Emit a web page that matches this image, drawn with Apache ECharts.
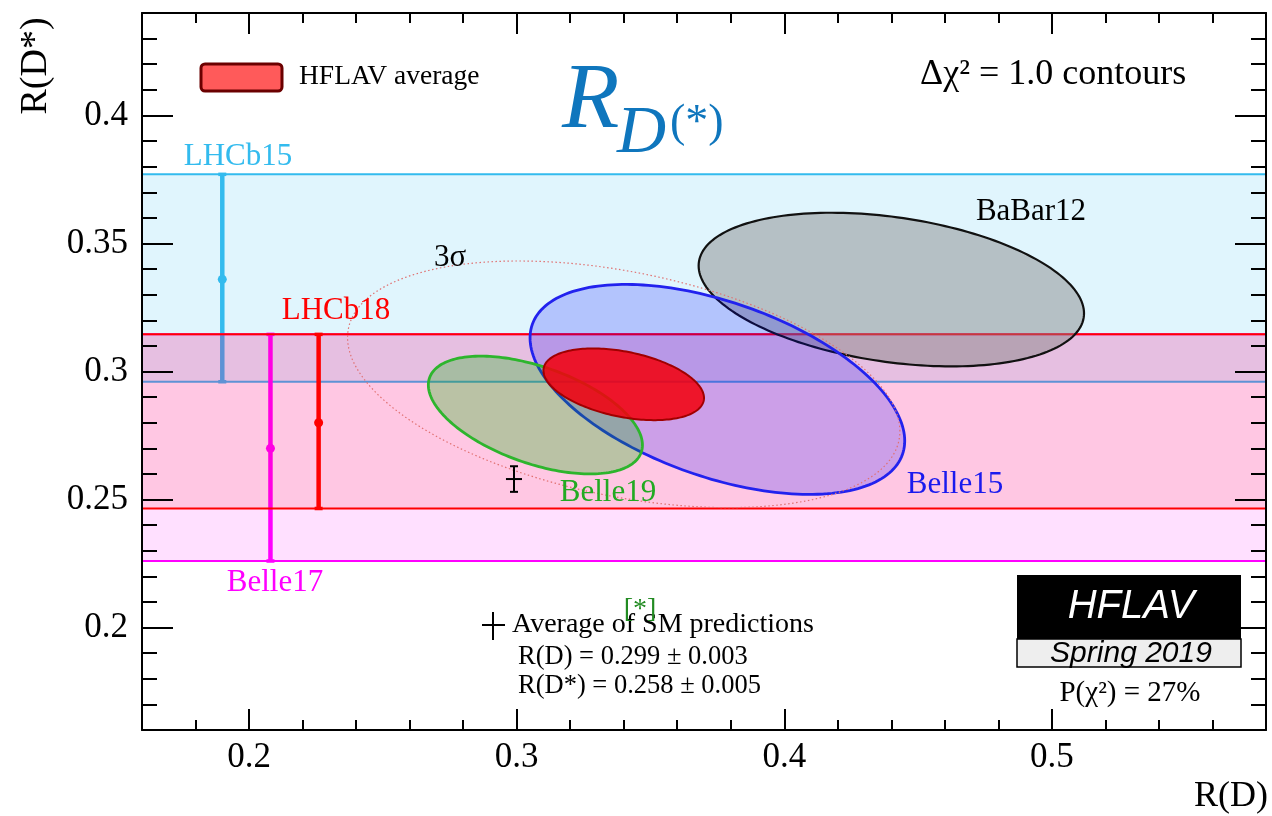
<!DOCTYPE html>
<html><head><meta charset="utf-8">
<script src="https://cdn.jsdelivr.net/npm/echarts@6/dist/echarts.min.js"></script>
<style>html,body{margin:0;padding:0;background:#fff;}#c{width:1272px;height:816px;}</style>
</head><body><div id="c"></div>
<script>
// ---------------- data ----------------
const xTickLabels = [0.2, 0.3, 0.4, 0.5];
const yTickLabels = [0.2, 0.25, 0.3, 0.35, 0.4];

// 1D R(D*) measurements (bands + error bars)
const measNames = ['LHCb15', 'Belle17', 'LHCb18'];
const measX = [0.190, 0.208, 0.226];
const measVal = [0.336, 0.270, 0.280];
const measLo = [0.296, 0.226, 0.2465];
const measHi = [0.377, 0.3145, 0.3145];

// 2D measurements (Δχ² = 1 contours)
const ellNames = ['BaBar12', 'Belle15', 'Belle19'];
const ellRD = [0.440, 0.375, 0.307];
const ellRDErr = [0.072, 0.070, 0.040];
const ellRDs = [0.332, 0.293, 0.283];
const ellRDsErr = [0.030, 0.041, 0.023];
const ellCorr = [-0.31, -0.49, -0.51];

// HFLAV average
const avgRD = [0.340], avgRDErr = [0.030], avgRDs = [0.295], avgRDsErr = [0.014], avgCorr = [-0.38];
const sigma3Scale = 3.44; // sqrt(Δχ² = 11.8)

// SM prediction
const smRD = [0.299], smRDErr = [0.003], smRDs = [0.258], smRDsErr = [0.005];
const pChi2 = '27%';

// ---------------- styles ----------------
const SERIF = '"Liberation Serif", "Times New Roman", serif';
const SANS = '"Liberation Sans", Arial, sans-serif';
const measStyle = {
  LHCb15: { line: '#33bbee', fill: 'rgba(0,176,240,0.12)' },
  Belle17: { line: '#ff00ff', fill: 'rgba(255,0,255,0.12)' },
  LHCb18: { line: '#ff0000', fill: 'rgba(255,0,0,0.11)' }
};
const ellStyle = {
  BaBar12: { stroke: '#111111', fill: 'rgba(128,128,128,0.45)', lw: 2.2 },
  Belle15: { stroke: '#2222ee', fill: 'rgba(0,0,255,0.2)', lw: 2.8 },
  Belle19: { stroke: '#2db52d', fill: 'rgba(0,180,0,0.27)', lw: 2.8 }
};

function ellipsePoints(api, cx, sx, cy, sy, rho, k) {
  const pts = [];
  const n = 200, s = Math.sqrt(1 - rho * rho);
  for (let i = 0; i < n; i++) {
    const t = 2 * Math.PI * i / n;
    pts.push(api.coord([cx + k * sx * Math.cos(t), cy + k * sy * (rho * Math.cos(t) + s * Math.sin(t))]));
  }
  return pts;
}

const series = [];
// bands + error bars
measNames.forEach((name, i) => {
  const st = measStyle[name];
  series.push({
    type: 'custom', name, xAxisIndex: 0, yAxisIndex: 0, z: 2 + i * 0.1,
    data: [[measX[i], measVal[i], measLo[i], measHi[i]]],
    renderItem: (params, api) => {
      const cs = params.coordSys;
      const x = api.value(0), v = api.value(1), lo = api.value(2), hi = api.value(3);
      const pLo = api.coord([x, lo]), pHi = api.coord([x, hi]), pV = api.coord([x, v]);
      return {
        type: 'group', children: [
          { type: 'rect', shape: { x: cs.x, y: pHi[1], width: cs.width, height: pLo[1] - pHi[1] }, style: { fill: st.fill } },
          { type: 'line', shape: { x1: cs.x, y1: pHi[1], x2: cs.x + cs.width, y2: pHi[1] }, style: { stroke: st.line, lineWidth: 2 } },
          { type: 'line', shape: { x1: cs.x, y1: pLo[1], x2: cs.x + cs.width, y2: pLo[1] }, style: { stroke: st.line, lineWidth: 2 } },
          { type: 'line', shape: { x1: pV[0], y1: pLo[1], x2: pV[0], y2: pHi[1] }, style: { stroke: st.line, lineWidth: 4.5 } },
          { type: 'line', shape: { x1: pV[0] - 4, y1: pLo[1], x2: pV[0] + 4, y2: pLo[1] }, style: { stroke: st.line, lineWidth: 3.5 } },
          { type: 'line', shape: { x1: pV[0] - 4, y1: pHi[1], x2: pV[0] + 4, y2: pHi[1] }, style: { stroke: st.line, lineWidth: 3.5 } },
          { type: 'circle', shape: { cx: pV[0], cy: pV[1], r: 4.5 }, style: { fill: st.line } }
        ]
      };
    }
  });
});
// 2D contours
ellNames.forEach((name, i) => {
  const st = ellStyle[name];
  series.push({
    type: 'custom', name, xAxisIndex: 0, yAxisIndex: 0, z: 3 + i * 0.1,
    data: [[ellRD[i], ellRDErr[i], ellRDs[i], ellRDsErr[i], ellCorr[i]]],
    renderItem: (params, api) => ({
      type: 'polygon',
      shape: { points: ellipsePoints(api, api.value(0), api.value(1), api.value(2), api.value(3), api.value(4), 1) },
      style: { fill: st.fill, stroke: st.stroke, lineWidth: st.lw }
    })
  });
});
// 3 sigma contour of the average
series.push({
  type: 'custom', name: '3σ', xAxisIndex: 0, yAxisIndex: 0, z: 4,
  data: [[avgRD[0], avgRDErr[0], avgRDs[0], avgRDsErr[0], avgCorr[0]]],
  renderItem: (params, api) => ({
    type: 'polygon',
    shape: { points: ellipsePoints(api, api.value(0), api.value(1), api.value(2), api.value(3), api.value(4), sigma3Scale) },
    style: { fill: null, stroke: '#e07070', lineWidth: 1.2, lineDash: [1.5, 2.5] }
  })
});
// HFLAV average
series.push({
  type: 'custom', name: 'HFLAV average', xAxisIndex: 0, yAxisIndex: 0, z: 5,
  data: [[avgRD[0], avgRDErr[0], avgRDs[0], avgRDsErr[0], avgCorr[0]]],
  renderItem: (params, api) => ({
    type: 'polygon',
    shape: { points: ellipsePoints(api, api.value(0), api.value(1), api.value(2), api.value(3), api.value(4), 1) },
    style: { fill: 'rgba(242,0,14,0.87)', stroke: '#a00000', lineWidth: 2 }
  })
});
// SM prediction cross
series.push({
  type: 'custom', name: 'SM', xAxisIndex: 0, yAxisIndex: 0, z: 6,
  data: [[smRD[0], smRDErr[0], smRDs[0], smRDsErr[0]]],
  renderItem: (params, api) => {
    const x = api.value(0), ex = api.value(1), y = api.value(2), ey = api.value(3);
    const l = api.coord([x - ex, y]), r = api.coord([x + ex, y]), t = api.coord([x, y + ey]), b = api.coord([x, y - ey]);
    const s = { stroke: '#000', lineWidth: 2 };
    return {
      type: 'group', children: [
        { type: 'line', shape: { x1: l[0], y1: l[1], x2: r[0], y2: r[1] }, style: s },
        { type: 'line', shape: { x1: t[0], y1: t[1], x2: b[0], y2: b[1] }, style: s },
        { type: 'line', shape: { x1: t[0] - 4, y1: t[1], x2: t[0] + 4, y2: t[1] }, style: s },
        { type: 'line', shape: { x1: b[0] - 4, y1: b[1], x2: b[0] + 4, y2: b[1] }, style: s }
      ]
    };
  }
});

// ---------------- axes ----------------
const X0 = 0.16, X1 = 0.58, Y0 = 0.16, Y1 = 0.44;
const labFont = { fontFamily: SERIF, fontSize: 35, color: '#000' };
const tickLS = { color: '#000', width: 2 };
function xMajor(pos, labels) {
  return {
    type: 'value', gridIndex: 0, position: pos, min: X0, max: X1, z: 10,
    axisLine: { show: true, onZero: false, lineStyle: { color: '#000', width: 2 } },
    axisTick: { show: true, inside: true, length: 21, lineStyle: tickLS, customValues: xTickLabels },
    axisLabel: labels ? Object.assign({ show: true, margin: 10, customValues: xTickLabels, formatter: v => v.toFixed(1) }, labFont) : { show: false },
    splitLine: { show: false }
  };
}
function xMinor(pos) {
  return {
    type: 'value', gridIndex: 1, position: pos, min: X0, max: X1, interval: 0.02, z: 10,
    axisLine: { show: false }, axisTick: { show: true, inside: true, length: 10, lineStyle: tickLS },
    axisLabel: { show: false }, splitLine: { show: false }
  };
}
function yMajor(pos, labels) {
  return {
    type: 'value', gridIndex: 0, position: pos, min: Y0, max: Y1, z: 10,
    axisLine: { show: true, onZero: false, lineStyle: { color: '#000', width: 2 } },
    axisTick: { show: true, inside: true, length: 31, lineStyle: tickLS, customValues: yTickLabels },
    axisLabel: labels ? Object.assign({ show: true, margin: 14, customValues: yTickLabels, formatter: v => String(+v.toFixed(2)) }, labFont) : { show: false },
    splitLine: { show: false }
  };
}
function yMinor(pos) {
  return {
    type: 'value', gridIndex: 1, position: pos, min: Y0, max: Y1, interval: 0.01, z: 10,
    axisLine: { show: false }, axisTick: { show: true, inside: true, length: 15, lineStyle: tickLS },
    axisLabel: { show: false }, splitLine: { show: false }
  };
}

// ---------------- annotations ----------------
function txt(text, x, y, font, fill, align, extra) {
  return Object.assign({ type: 'text', x, y, z: 100, style: { text, font, fill: fill || '#000', align: align || 'left', verticalAlign: 'middle' } }, extra || {});
}
const graphic = [
  txt('R(D*)', 36, 66, '38px ' + SERIF, '#000', 'center', { rotation: Math.PI / 2 }),
  txt('R(D)', 1268, 797, '36px ' + SERIF, '#000', 'right'),
  { type: 'rect', z: 100, shape: { x: 201, y: 64, width: 81, height: 27, r: 4 }, style: { fill: '#ff5a5a', stroke: '#6b0000', lineWidth: 3 } },
  txt('HFLAV average', 299, 77, '27.5px ' + SERIF),
  txt('R', 562, 102, 'italic 94px ' + SERIF, '#0f76bd'),
  txt('D', 617, 134, 'italic 68px ' + SERIF, '#0f76bd'),
  txt('(*)', 670, 124, '46px ' + SERIF, '#0f76bd'),
  txt('Δχ² = 1.0 contours', 920, 75, '36px ' + SERIF),
  txt(measNames[0], 238, 157, '31px ' + SERIF, measStyle.LHCb15.line, 'center'),
  txt(measNames[2], 336, 311, '31px ' + SERIF, measStyle.LHCb18.line, 'center'),
  txt(measNames[1], 275, 583, '31px ' + SERIF, measStyle.Belle17.line, 'center'),
  txt(ellNames[2], 608, 493, '31px ' + SERIF, '#22aa22', 'center'),
  txt(ellNames[1], 955, 485, '31px ' + SERIF, '#1a1aee', 'center'),
  txt(ellNames[0], 1031, 212, '31px ' + SERIF, '#000', 'center'),
  txt('3σ', 450, 258, '31px ' + SERIF, '#000', 'center'),
  { type: 'rect', z: 100, shape: { x: 1017, y: 575, width: 224, height: 64 }, style: { fill: '#000' } },
  { type: 'rect', z: 100, shape: { x: 1017, y: 639, width: 224, height: 28 }, style: { fill: '#eeeeee', stroke: '#000', lineWidth: 1.5 } },
  txt('HFLAV', 1131, 607, 'italic 40px ' + SANS, '#fff', 'center'),
  txt('Spring 2019', 1131, 654, 'italic 30px ' + SANS, '#000', 'center'),
  txt('P(χ²) = ' + pChi2, 1130, 693, '29px ' + SERIF, '#000', 'center'),
  { type: 'line', z: 100, shape: { x1: 482, y1: 625, x2: 505, y2: 625 }, style: { stroke: '#000', lineWidth: 2 } },
  { type: 'line', z: 100, shape: { x1: 493, y1: 612, x2: 493, y2: 640 }, style: { stroke: '#000', lineWidth: 2 } },
  txt('Average of SM predictions', 512, 625, '28px ' + SERIF),
  txt('R(D) = ' + smRD[0].toFixed(3) + ' ± ' + smRDErr[0].toFixed(3), 518, 657, '26.5px ' + SERIF),
  txt('R(D*) = ' + smRDs[0].toFixed(3) + ' ± ' + smRDsErr[0].toFixed(3), 518, 686, '26.5px ' + SERIF),
  txt('[*]', 640, 610, '28px ' + SERIF, '#228b22', 'center')
];

const chart = echarts.init(document.getElementById('c'), null, { renderer: 'canvas' });
chart.setOption({
  backgroundColor: '#fff',
  animation: false,
  grid: [
    { left: 142, right: 6, top: 13, bottom: 86, containLabel: false },
    { left: 142, right: 6, top: 13, bottom: 86, containLabel: false }
  ],
  xAxis: [xMajor('bottom', true), xMajor('top', false), xMinor('bottom'), xMinor('top')],
  yAxis: [yMajor('left', true), yMajor('right', false), yMinor('left'), yMinor('right')],
  series,
  graphic
});
</script>
</body></html>
